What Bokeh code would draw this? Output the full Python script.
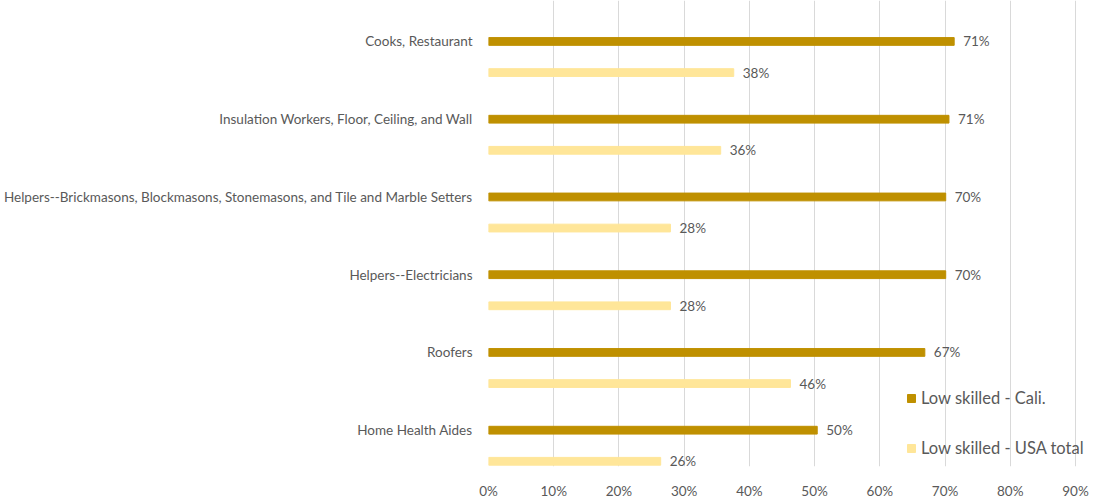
from bokeh.plotting import figure
from bokeh.models import ColumnDataSource, FixedTicker, Legend, LegendItem, NumeralTickFormatter
from bokeh.core.properties import value
from bokeh.embed import file_html
from bokeh.resources import INLINE

categories = ["Cooks, Restaurant",
              "Insulation Workers, Floor, Ceiling, and Wall",
              "Helpers--Brickmasons, Blockmasons, Stonemasons, and Tile and Marble Setters",
              "Helpers--Electricians",
              "Roofers",
              "Home Health Aides"]
cali = [0.714, 0.706, 0.701, 0.701, 0.669, 0.504]
usa = [0.376, 0.356, 0.279, 0.279, 0.463, 0.264]
series_names = ["Low skilled - Cali.", "Low skilled - USA total"]
x_ticks = [0, 0.1, 0.2, 0.3, 0.4, 0.5, 0.6, 0.7, 0.8, 0.9]

FONT = "Lato"
GREY = "#595959"
C_CALI = "#BF9000"
C_USA = "#FFE699"

n = len(categories)
pos = [n - 1 - i for i in range(n)]
offset = 0.4

src_c = ColumnDataSource(dict(y=pos, v=cali, lab=[f"{round(v*100)}%" for v in cali]))
src_u = ColumnDataSource(dict(y=[p - offset for p in pos], v=usa, lab=[f"{round(v*100)}%" for v in usa]))

p = figure(width=1090, height=501, output_backend="svg", toolbar_location=None,
           x_range=(0, 0.923), y_range=(-0.467, 5.527),
           min_border_left=488, min_border_right=0, min_border_top=0, min_border_bottom=0)
p.outline_line_color = None

r1 = p.hbar(y="y", right="v", left=0, height=0.1, color=C_CALI, source=src_c)
r2 = p.hbar(y="y", right="v", left=0, height=0.1, color=C_USA, source=src_u)

for s in (src_c, src_u):
    p.text(x="v", y="y", text="lab", source=s, x_offset=9, text_baseline="middle",
           text_align="left", text_font=value(FONT), text_font_size="13.5px", text_color=GREY)

p.xaxis.ticker = FixedTicker(ticks=x_ticks)
p.xaxis.formatter = NumeralTickFormatter(format="0%")
p.xaxis.axis_line_color = None
p.xaxis.major_tick_line_color = None
p.xaxis.minor_tick_line_color = None
p.xaxis.major_label_text_font = FONT
p.xaxis.major_label_text_font_size = "13.5px"
p.xaxis.major_label_text_color = GREY
p.xaxis.major_label_standoff = 10

p.yaxis.ticker = FixedTicker(ticks=pos)
p.yaxis.major_label_overrides = {pos[i]: categories[i] for i in range(n)}
p.yaxis.axis_line_color = None
p.yaxis.major_tick_line_color = None
p.yaxis.minor_tick_line_color = None
p.yaxis.major_label_text_font = FONT
p.yaxis.major_label_text_font_size = "13.5px"
p.yaxis.major_label_text_color = GREY
p.yaxis.major_label_standoff = 10

p.xgrid.ticker = FixedTicker(ticks=x_ticks)
p.xgrid.grid_line_color = "#d9d9d9"
p.ygrid.grid_line_color = None

legend = Legend(items=[LegendItem(label=series_names[0], renderers=[r1]),
                       LegendItem(label=series_names[1], renderers=[r2])],
                location=(418, 8), orientation="vertical",
                glyph_width=10, glyph_height=10, label_standoff=5, spacing=30,
                padding=0, margin=0, border_line_alpha=0, background_fill_alpha=0,
                label_text_font=FONT, label_text_font_size="16.5px", label_text_color=GREY)
p.add_layout(legend, "center")

open("out.html", "w").write(file_html(p, INLINE))
